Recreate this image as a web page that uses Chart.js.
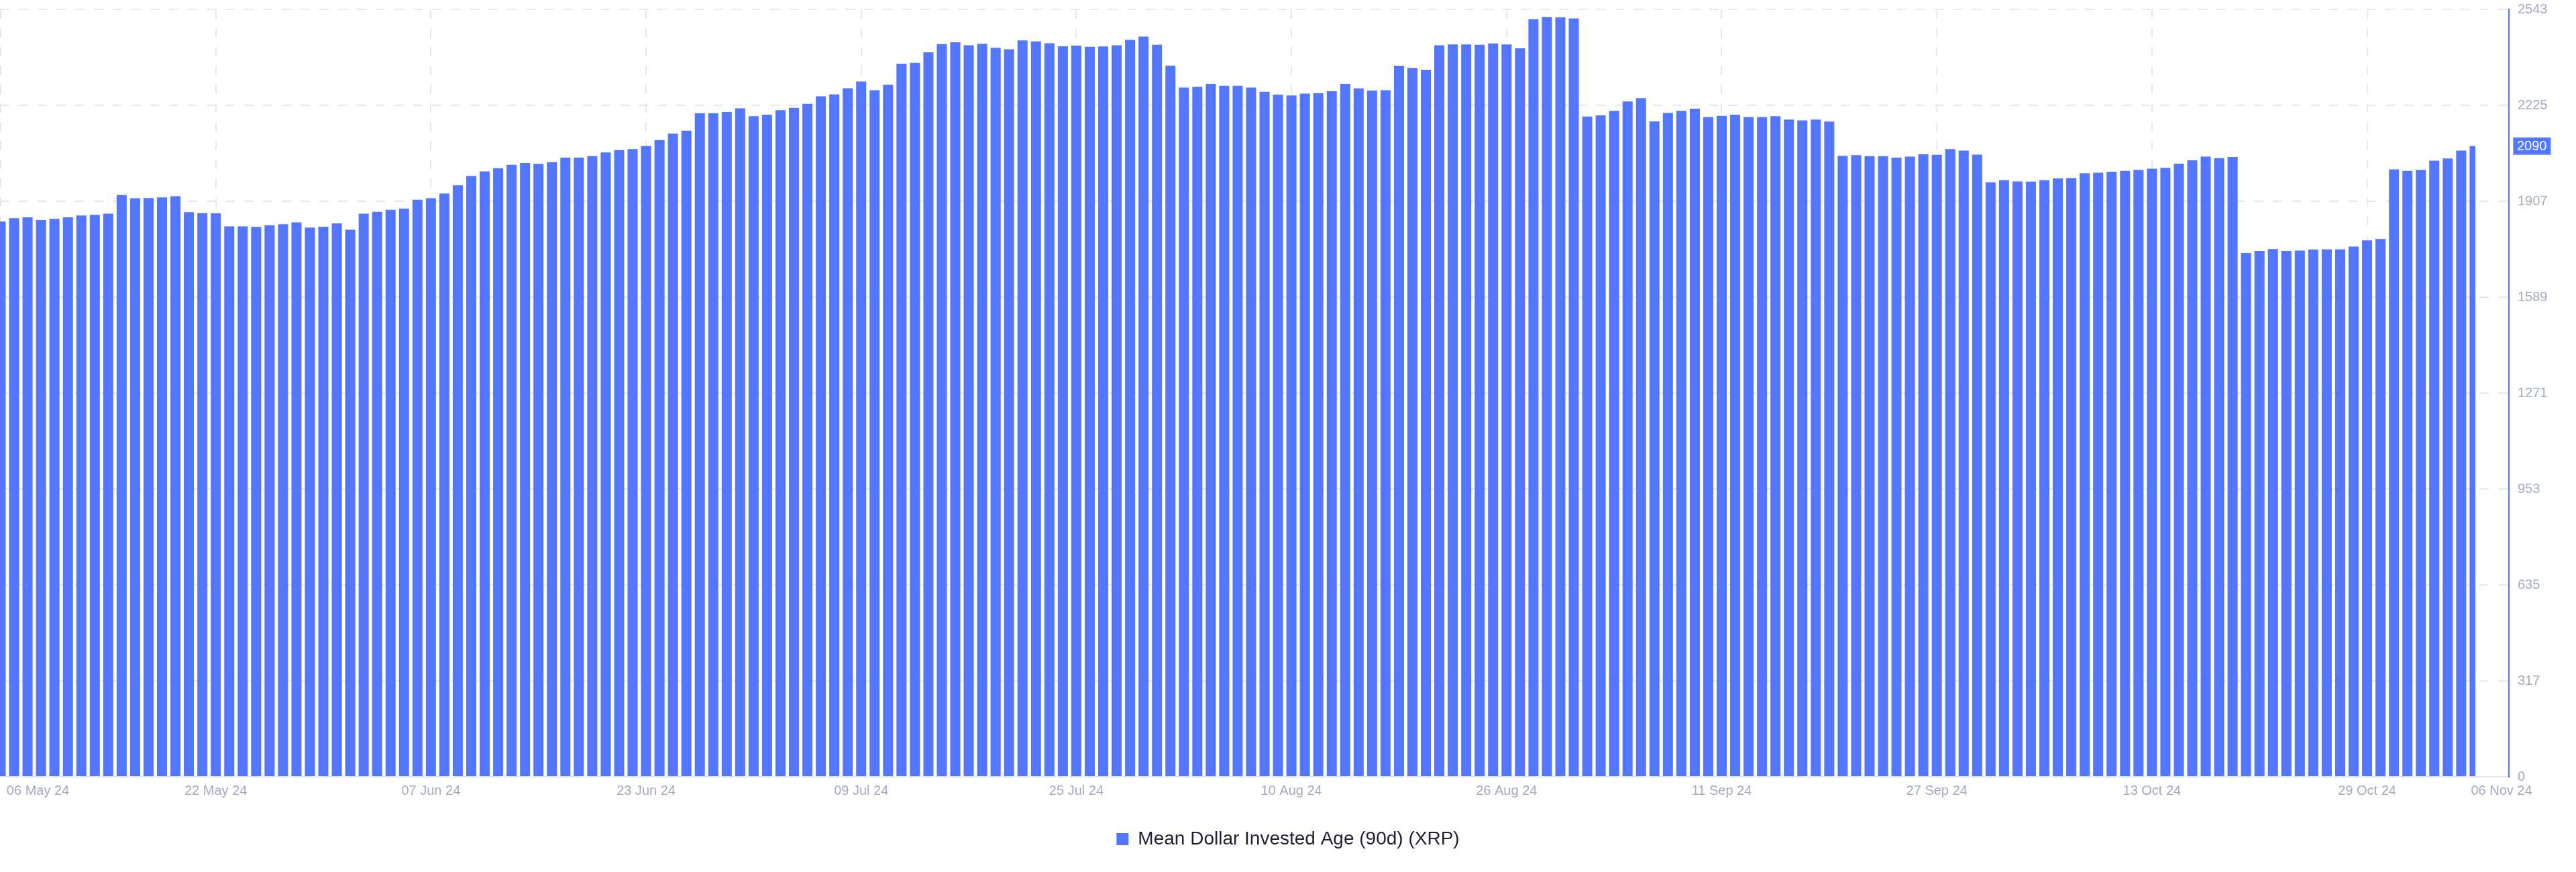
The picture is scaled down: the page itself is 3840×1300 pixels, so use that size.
<!DOCTYPE html>
<html>
<head>
<meta charset="utf-8">
<script src="https://cdn.jsdelivr.net/npm/chart.js@4/dist/chart.umd.min.js"></script>
<style>
  html, body { margin: 0; padding: 0; background: #ffffff; }
  #wrap { width: 3840px; height: 1300px; }
</style>
</head>
<body>
<div id="wrap"><canvas id="c" width="3840" height="1300"></canvas></div>
<script>
// ---- data ----
const seriesName = 'Mean Dollar Invested Age (90d) (XRP)';
const startDate = '2024-05-06';
const values = [
  1840, 1851, 1854, 1845, 1849, 1854, 1860, 1862, 1866, 1928,
  1917, 1918, 1920, 1924, 1871, 1868, 1867, 1824, 1824, 1822,
  1828, 1831, 1837, 1820, 1823, 1834, 1813, 1866, 1872, 1879,
  1883, 1912, 1917, 1933, 1960, 1991, 2006, 2017, 2028, 2034,
  2031, 2037, 2052, 2052, 2057, 2069, 2077, 2080, 2090, 2110,
  2131, 2141, 2199, 2199, 2203, 2215, 2189, 2194, 2209, 2217,
  2230, 2255, 2261, 2282, 2304, 2275, 2293, 2363, 2366, 2401,
  2428, 2434, 2424, 2429, 2416, 2411, 2440, 2437, 2431, 2421,
  2423, 2419, 2420, 2424, 2442, 2453, 2426, 2357, 2284, 2286,
  2296, 2290, 2290, 2284, 2270, 2260, 2258, 2264, 2265, 2272,
  2296, 2281, 2274, 2275, 2356, 2349, 2343, 2424, 2427, 2427,
  2426, 2430, 2427, 2414, 2511, 2518, 2517, 2513, 2188, 2192,
  2207, 2238, 2249, 2172, 2200, 2207, 2214, 2186, 2190, 2194,
  2186, 2186, 2189, 2178, 2175, 2178, 2171, 2058, 2060, 2057,
  2057, 2052, 2055, 2063, 2061, 2080, 2075, 2062, 1970, 1977,
  1973, 1972, 1977, 1983, 1984, 2000, 2002, 2005, 2008, 2011,
  2015, 2018, 2032, 2043, 2055, 2050, 2054, 1736, 1743, 1749,
  1743, 1744, 1747, 1748, 1748, 1757, 1778, 1782, 2013, 2008,
  2011, 2042, 2049, 2075, 2090
];
// category dates (one per bar)
const months = ['Jan','Feb','Mar','Apr','May','Jun','Jul','Aug','Sep','Oct','Nov','Dec'];
const dates = [];
{
  const d0 = new Date(startDate + 'T00:00:00Z');
  for (let i = 0; i < values.length; i++) {
    const d = new Date(d0.getTime() + i * 86400000);
    dates.push(String(d.getUTCDate()).padStart(2, '0') + ' ' + months[d.getUTCMonth()] + ' ' + String(d.getUTCFullYear()).slice(2));
  }
}
// x tick labels and the bar index where each sits
const xTickLabels = ['06 May 24','22 May 24','07 Jun 24','23 Jun 24','09 Jul 24','25 Jul 24','10 Aug 24','26 Aug 24','11 Sep 24','27 Sep 24','13 Oct 24','29 Oct 24','06 Nov 24'];
const xTickIdx    = [2.77, 16, 32, 48, 64, 80, 96, 112, 128, 144, 160, 176, 186];
const xGridIdx    = [0, 16, 32, 48, 64, 80, 96, 112, 128, 144, 160, 176];
// y ticks
const yMax = 2543;
const yTickCount = 8;

// ---- chart ----
const BAR = '#5376ff';
const GRID = '#e6e8f3';
const TICK = '#a2aac4';
const FONT = "'Liberation Sans', Arial, sans-serif";

const xTickValues = Array.from(new Set([...xGridIdx, ...xTickIdx])).sort((a, b) => a - b);
const labelAt = {};
xTickIdx.forEach((v, i) => { labelAt[v] = xTickLabels[i]; });
const gridSet = new Set(xGridIdx);

const barData = values.map((v, i) => ({ x: i, y: v, d: dates[i] }));

const badgePlugin = {
  id: 'lastBadge',
  afterDraw(chart) {
    const { ctx, chartArea, scales } = chart;
    const last = values[values.length - 1];
    const y = scales.y.getPixelForValue(last);
    const txt = String(last);
    ctx.save();
    ctx.font = '20px ' + FONT;
    const w = ctx.measureText(txt).width + 12;
    const h = 26;
    const x = chartArea.right + 6;
    ctx.fillStyle = BAR;
    ctx.fillRect(x, y - h / 2, w, h);
    ctx.strokeStyle = '#8ea3ff';
    ctx.lineWidth = 1;
    ctx.strokeRect(x + 0.5, y - h / 2 + 0.5, w - 1, h - 1);
    ctx.fillStyle = '#ffffff';
    ctx.textAlign = 'left';
    ctx.textBaseline = 'middle';
    ctx.fillText(txt, x + 6, y + 1);
    ctx.restore();
  }
};

new Chart(document.getElementById('c'), {
  type: 'bar',
  data: {
    datasets: [{
      label: seriesName,
      data: barData,
      backgroundColor: BAR,
      borderWidth: 0,
      barPercentage: 0.75,
      categoryPercentage: 1,
      clip: { left: 0, top: false, right: -50, bottom: 0 }
    }]
  },
  options: {
    responsive: false,
    devicePixelRatio: 1,
    animation: false,
    layout: { padding: { top: 14, left: 0, right: 0, bottom: 25 } },
    plugins: {
      tooltip: { enabled: false },
      legend: {
        position: 'bottom',
        labels: {
          boxWidth: 18,
          boxHeight: 18,
          padding: 10,
          color: '#1d2033',
          font: { family: FONT, size: 28 }
        }
      }
    },
    scales: {
      x: {
        type: 'linear',
        position: 'bottom',
        offset: false,
        min: -0.05,
        max: 186.55,
        afterBuildTicks(scale) { scale.ticks = xTickValues.map(v => ({ value: v })); },
        afterFit(scale) { scale.height = 69; scale.paddingLeft = 0; scale.paddingRight = 0; },
        grid: {
          offset: false,
          drawTicks: false,
          lineWidth: 2,
          color: (ctx) => (ctx.tick && gridSet.has(ctx.tick.value)) ? GRID : 'rgba(0,0,0,0)'
        },
        border: { display: true, color: '#e3e6ef', width: 2, dash: [14, 14] },
        ticks: {
          autoSkip: false,
          maxRotation: 0,
          minRotation: 0,
          padding: 9,
          color: TICK,
          font: { family: FONT, size: 20 },
          callback: (v) => (labelAt[v] !== undefined ? labelAt[v] : '')
        }
      },
      y: {
        type: 'linear',
        position: 'right',
        min: 0,
        max: yMax,
        afterBuildTicks(scale) {
          const t = [];
          for (let i = 0; i <= yTickCount; i++) t.push({ value: yMax * i / yTickCount });
          scale.ticks = t;
        },
        afterFit(scale) { scale.width = 100; scale.paddingTop = 0; scale.paddingBottom = 0; },
        grid: { drawTicks: false, lineWidth: 2, color: GRID },
        border: { display: true, color: BAR, width: 2, dash: [14, 14] },
        ticks: {
          padding: 13,
          color: TICK,
          font: { family: FONT, size: 20 },
          callback: (v) => String(Math.floor(v))
        }
      }
    }
  },
  plugins: [badgePlugin]
});
</script>
</body>
</html>
